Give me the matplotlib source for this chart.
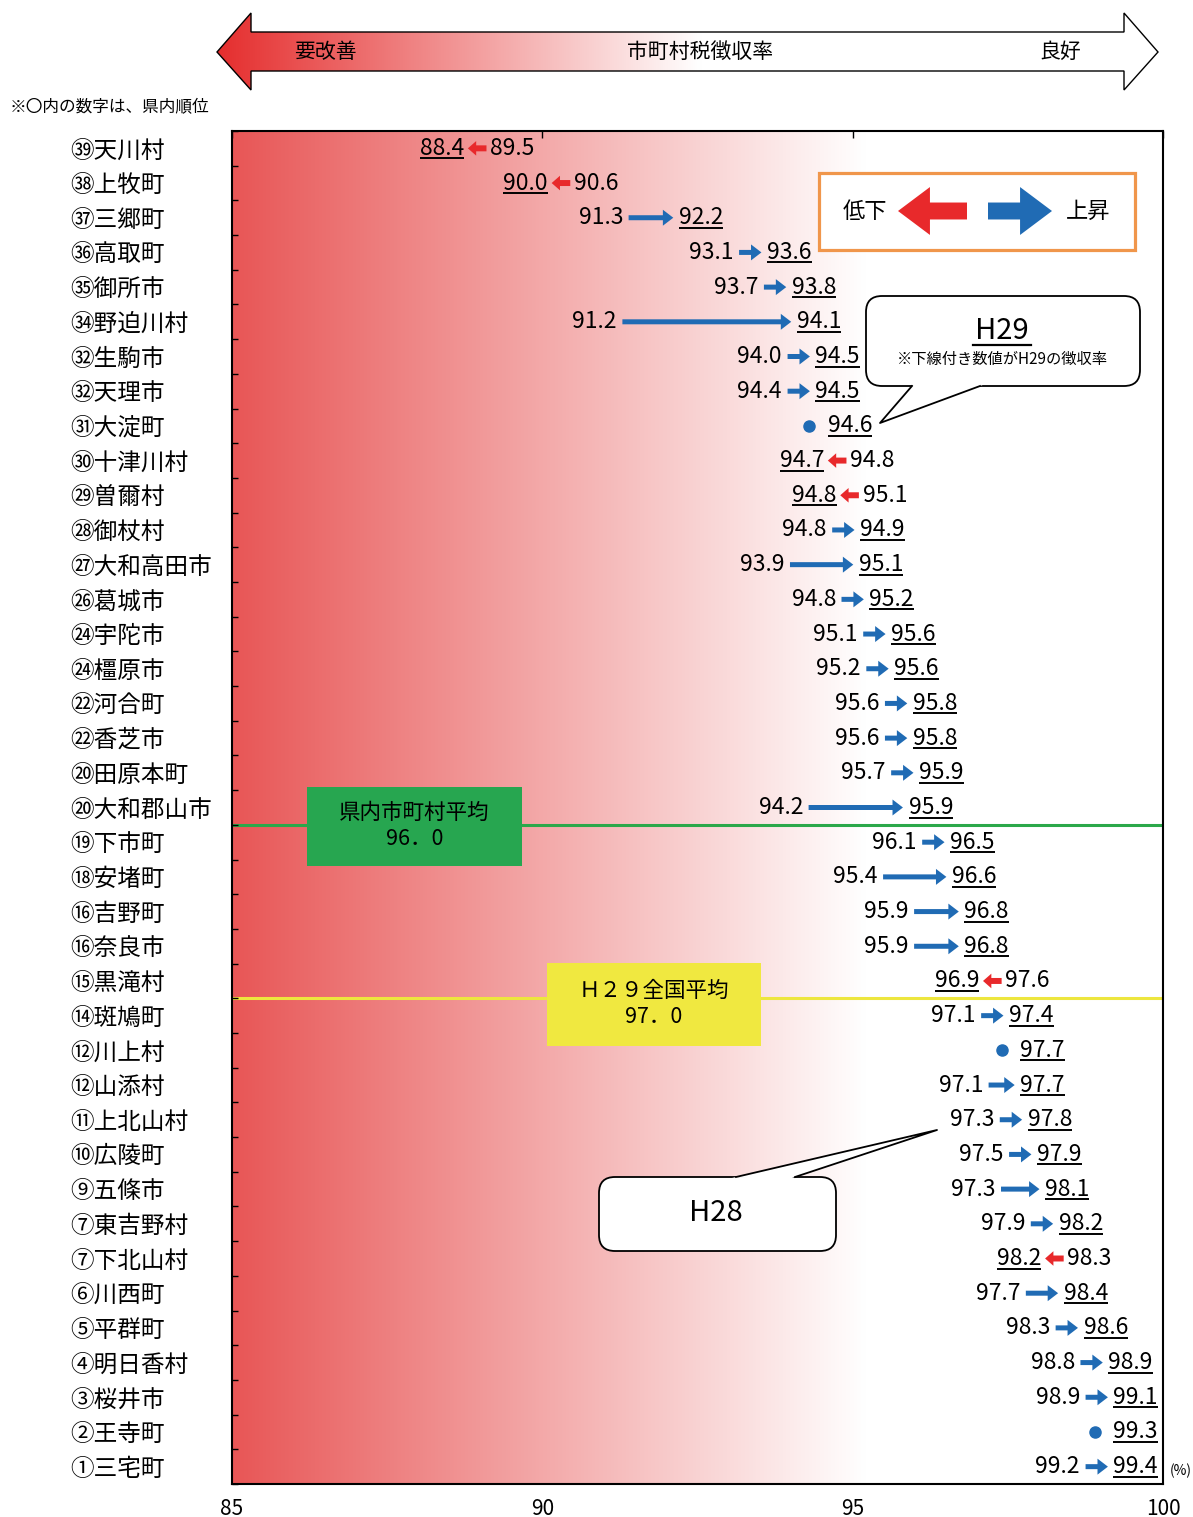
import matplotlib
matplotlib.use("Agg")
import matplotlib.pyplot as plt
import numpy as np
from matplotlib.patches import FancyArrowPatch, Rectangle, FancyBboxPatch, Polygon
from matplotlib.colors import to_rgb

plt.rcParams['font.family'] = ['Noto Sans CJK JP', 'DejaVu Sans']

# data: ranking order from the bottom of the prefecture (top row) to the best
names = ['㊴天川村', '㊳上牧町', '㊲三郷町', '㊱高取町', '㉟御所市', '㉞野迫川村',
         '㉜生駒市', '㉜天理市', '㉛大淀町', '㉚十津川村', '㉙曽爾村', '㉘御杖村',
         '㉗大和高田市', '㉖葛城市', '㉔宇陀市', '㉔橿原市', '㉒河合町', '㉒香芝市',
         '⑳田原本町', '⑳大和郡山市', '⑲下市町', '⑱安堵町', '⑯吉野町', '⑯奈良市',
         '⑮黒滝村', '⑭斑鳩町', '⑫川上村', '⑫山添村', '⑪上北山村', '⑩広陵町',
         '⑨五條市', '⑦東吉野村', '⑦下北山村', '⑥川西町', '⑤平群町', '④明日香村',
         '③桜井市', '②王寺町', '①三宅町']
h28 = [89.5, 90.6, 91.3, 93.1, 93.7, 91.2, 94.0, 94.4, 94.6, 94.8, 95.1, 94.8,
       93.9, 94.8, 95.1, 95.2, 95.6, 95.6, 95.7, 94.2, 96.1, 95.4, 95.9, 95.9,
       97.6, 97.1, 97.7, 97.1, 97.3, 97.5, 97.3, 97.9, 98.3, 97.7, 98.3, 98.8,
       98.9, 99.3, 99.2]
h29 = [88.4, 90.0, 92.2, 93.6, 93.8, 94.1, 94.5, 94.5, 94.6, 94.7, 94.8, 94.9,
       95.1, 95.2, 95.6, 95.6, 95.8, 95.8, 95.9, 95.9, 96.5, 96.6, 96.8, 96.8,
       96.9, 97.4, 97.7, 97.7, 97.8, 97.9, 98.1, 98.2, 98.2, 98.4, 98.6, 98.9,
       99.1, 99.3, 99.4]
pref_avg = 96.0
nat_avg = 97.0
xticks = [85, 90, 95, 100]

RED = '#E8292B'
BLUE = '#206BB4'
FW = str.maketrans('0123456789H', '０１２３４５６７８９Ｈ')

W, H = 1193, 1517
fig = plt.figure(figsize=(W / 100, H / 100), dpi=100)
ax = fig.add_axes([232 / W, 1 - 1484 / H, (1163 - 232) / W, (1484 - 131) / H])
n = len(names)

# red -> white background
gx = np.linspace(85, 100, 600)
t = np.clip((gx - 85) / (95.2 - 85), 0, 1)[:, None]
grad = np.array(to_rgb('#E85656')) * (1 - t) + t
ax.imshow(grad[None, :, :], extent=(85, 100, n - 0.5, -0.5), aspect='auto', zorder=0)
ax.set_xlim(85, 100)
ax.set_ylim(n - 0.5, -0.5)

# average lines
y_pref = sum(v < pref_avg for v in h29) - 0.5
y_nat = sum(v < nat_avg for v in h29) - 0.5
ax.axhline(y_pref, color='#2BA84A', lw=2.2, zorder=1)
ax.axhline(y_nat, color='#EDE63E', lw=2.2, zorder=1)

ax.add_patch(Rectangle((86.21, y_pref - 1.1), 3.46, 2.28, fc='#27A650', ec='none', zorder=2))
ax.text(87.94, y_pref + 0.04, '県内市町村平均\n' + f'{pref_avg:.1f}'.replace('.', '．'),
        ha='center', va='center', fontsize=15.5, linespacing=1.25, zorder=3)
ax.add_patch(Rectangle((90.07, y_nat - 1.02), 3.45, 2.39, fc='#F0E840', ec='none', zorder=2))
ax.text(91.8, y_nat + 0.17, 'H29'.translate(FW) + '全国平均\n' + f'{nat_avg:.1f}'.replace('.', '．'),
        ha='center', va='center', fontsize=15.5, linespacing=1.25, zorder=3)


def arrow(x0, x1, y, col, big):
    if big:
        st = 'simple,head_length=7.5,head_width=11.5,tail_width=3.6'
    else:
        st = 'simple,head_length=6,head_width=10.5,tail_width=4.3'
    p = FancyArrowPatch((x0, y), (x1, y), arrowstyle=st, mutation_scale=1,
                        color=col, lw=0, shrinkA=0, shrinkB=0, zorder=3)
    ax.add_patch(p)
    return p


fs = 16.5
under = []
rows = []
for i, (a, b) in enumerate(zip(h28, h29)):
    d = round(b - a, 1)
    row = {'texts': [], 'arrows': [], 'dots': []}
    if d == 0:
        row['dots'] += ax.plot(b - 0.3, i, 'o', color=BLUE, ms=8, zorder=3)
        tu = ax.text(b, i, f'{b:.1f}', ha='left', va='center', fontsize=fs, zorder=4)
        row['texts'].append(tu)
    elif d > 0:
        c = (a + b) / 2
        half = max(d / 2, 0.27)
        x0, x1 = c - half, c + half
        row['arrows'].append(arrow(x0 + 0.09, x1 - 0.09, i, BLUE, True))
        row['texts'].append(ax.text(x0, i, f'{a:.1f}', ha='right', va='center', fontsize=fs, zorder=4))
        tu = ax.text(x1, i, f'{b:.1f}', ha='left', va='center', fontsize=fs, zorder=4)
        row['texts'].append(tu)
    else:
        c = (a + b) / 2
        x0, x1 = c - 0.21, c + 0.21
        row['arrows'].append(arrow(x1 - 0.06, x0 + 0.06, i, RED, False))
        tu = ax.text(x0, i, f'{b:.1f}', ha='right', va='center', fontsize=fs, zorder=4)
        row['texts'].append(tu)
        row['texts'].append(ax.text(x1, i, f'{a:.1f}', ha='left', va='center', fontsize=fs, zorder=4))
    under.append(tu)
    rows.append(row)

ax.set_yticks(range(n))
ax.set_yticklabels(names, fontsize=17, ha='left')
ax.tick_params(axis='y', which='major', length=0, pad=(232 - 70) * 0.72)
ax.set_yticks(np.arange(-0.5, n, 1), minor=True)
ax.tick_params(axis='y', which='minor', direction='in', length=4, width=1)
ax.set_xticks(xticks)
ax.set_xticklabels([str(v) for v in xticks])
ax.tick_params(axis='x', bottom=False, top=True, direction='in', length=5, width=1,
               labelsize=15, pad=10)
for s in ax.spines.values():
    s.set_linewidth(1.5)

# overlay in pixel coordinates for the decorations
ov = fig.add_axes([0, 0, 1, 1], zorder=5)
ov.axis('off')

verts = [(217, 52), (251, 13), (251, 32), (1124, 32), (1124, 13), (1158, 52),
         (1124, 90), (1124, 71), (251, 71), (251, 90)]
poly = Polygon(verts, closed=True, fc='none', ec='black', lw=1, zorder=2)
ov.add_patch(poly)
px = np.linspace(217, 1158, 500)
tt = np.clip((px - 217) / (700 - 217), 0, 1)[:, None]
g2 = np.array(to_rgb('#E52E2E')) * (1 - tt) + tt
im = ov.imshow(g2[None, :, :], extent=(217, 1158, 90, 13), aspect='auto', zorder=1)
im.set_clip_path(poly)
ov.text(325, 52, '要改善', ha='center', va='center', fontsize=15)
ov.text(700, 52, '市町村税徴収率', ha='center', va='center', fontsize=15)
ov.text(1060, 52, '良好', ha='center', va='center', fontsize=15)
ov.text(10, 107, '※〇内の数字は、県内順位', ha='left', va='center', fontsize=12)

# legend box
ov.add_patch(Rectangle((819, 173), 316, 77, fc='white', ec='#F0964B', lw=2.3, zorder=2))
ov.text(865, 211, '低下', ha='center', va='center', fontsize=16, zorder=3)
ov.text(1088, 211, '上昇', ha='center', va='center', fontsize=16, zorder=3)
lst = 'simple,head_length=23,head_width=34.5,tail_width=12.2'
ov.add_patch(FancyArrowPatch((967, 211), (898, 211), arrowstyle=lst, mutation_scale=1,
                             color=RED, lw=0, shrinkA=0, shrinkB=0, zorder=3))
ov.add_patch(FancyArrowPatch((988, 211), (1052, 211), arrowstyle=lst, mutation_scale=1,
                             color=BLUE, lw=0, shrinkA=0, shrinkB=0, zorder=3))


def callout(x0, y0, x1, y1, b1, b2, tip):
    box = FancyBboxPatch((x0, y0), x1 - x0, y1 - y0, boxstyle='round,pad=0,rounding_size=16',
                         fc='white', ec='black', lw=1.3, zorder=2)
    ov.add_patch(box)
    ext = []
    for b in (b1, b2):
        v = np.array(b) - np.array(tip)
        ext.append(np.array(b) + v / np.linalg.norm(v) * 4)
    ov.add_patch(Polygon([ext[0], tip, ext[1]], closed=True, fc='white', ec='none', zorder=3))
    ov.plot([b1[0], tip[0], b2[0]], [b1[1], tip[1], b2[1]], color='black', lw=1.3, zorder=4)
    return box


h29_box = callout(866, 296, 1140, 386, (912, 386), (980, 386), (880, 423))
ov.text(1002, 331, 'H29', ha='center', va='center', fontsize=21, zorder=5)
ov.plot([973, 1031], [345, 345], color='black', lw=1.6, zorder=5)
ov.text(1002, 359, '※下線付き数値がH29の徴収率', ha='center', va='center', fontsize=11, zorder=5)

h28_box = callout(599, 1177, 836, 1251, (736, 1177), (795, 1177), (937, 1130))
ov.text(716, 1213, 'H28', ha='center', va='center', fontsize=21, zorder=5)

ov.text(1181, 1471, '(%)', ha='center', va='center', fontsize=10)
ov.set_xlim(0, W)
ov.set_ylim(H, 0)

# keep every row clear of the frame and the H29 note: shift a row left when needed
fig.canvas.draw()
r = fig.canvas.get_renderer()
ppu = ax.bbox.width / 15.0
note = h29_box.get_window_extent(r)
for row in rows:
    bbs = [tx.get_window_extent(r) for tx in row['texts']]
    right = max(bb.x1 for bb in bbs)
    lo = min(bb.y0 for bb in bbs)
    hi = max(bb.y1 for bb in bbs)
    limit = ax.bbox.x1 - 5
    if hi > note.y0 + 2 and lo < note.y1:
        limit = min(limit, note.x0 - 6)
    if right > limit:
        dx = (right - limit) / ppu
        for tx in row['texts']:
            x, y = tx.get_position()
            tx.set_position((x - dx, y))
        for p in row['arrows']:
            (xa, ya), (xb, yb) = p._posA_posB
            p.set_positions((xa - dx, ya), (xb - dx, yb))
        for ln in row['dots']:
            ln.set_xdata(np.asarray(ln.get_xdata()) - dx)

# underline the H29 values
fig.canvas.draw()
inv = ax.transData.inverted()
for tx in under:
    bb = tx.get_window_extent(r)
    (xa, ya), (xb, _) = inv.transform([(bb.x0, bb.y0 + 1.5), (bb.x1, bb.y0 + 1.5)])
    ax.plot([xa, xb], [ya, ya], color='black', lw=1.4, solid_capstyle='butt', zorder=4)

fig.savefig('out.png', dpi=100)
